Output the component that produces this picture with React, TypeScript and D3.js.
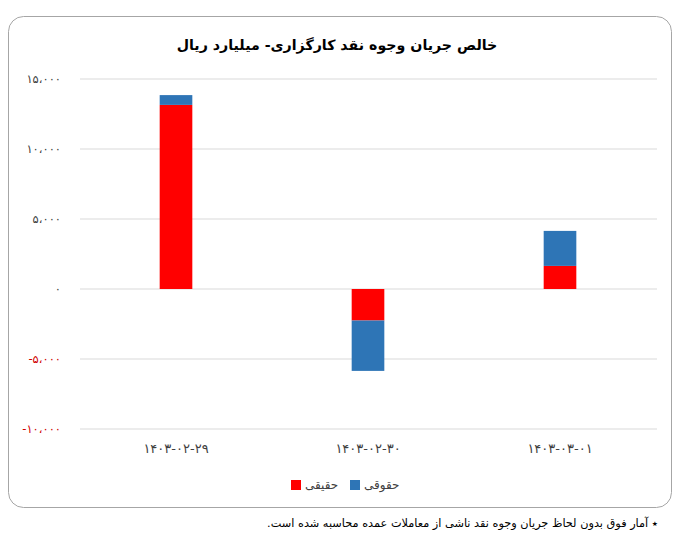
import * as d3 from 'd3'

const categories = ['۱۴۰۳-۰۲-۲۹', '۱۴۰۳-۰۲-۳۰', '۱۴۰۳-۰۳-۰۱']
const haghighi = [13150, -2250, 1650]
const hoghoghi = [700, -3600, 2500]
const yTicks = [-10000, -5000, 0, 5000, 10000, 15000]

const seriesKeys = ['haghighi', 'hoghoghi'] as const
const seriesNames: Record<string, string> = { haghighi: 'حقیقی', hoghoghi: 'حقوقی' }
const colors: Record<string, string> = { haghighi: '#FF0000', hoghoghi: '#2E75B6' }

const title = 'خالص جریان وجوه نقد کارگزاری- میلیارد ریال'
const footnote = '٭ آمار فوق بدون لحاظ جریان وجوه نقد ناشی از معاملات عمده محاسبه شده است.'

const W = 682
const H = 544
const FONT = '"DejaVu Sans", sans-serif'

const faDigits = (s: string) => s.replace(/[0-9]/g, d => '۰۱۲۳۴۵۶۷۸۹'[+d])
const fmtTick = (v: number) => {
  const s = d3.format(',')(Math.abs(v)).replace(/,/g, '،')
  return (v < 0 ? '-' : '') + faDigits(s)
}

export default function App() {
  const rows = categories.map((c, i) => ({ cat: c, haghighi: haghighi[i], hoghoghi: hoghoghi[i] }))
  const stacked = d3.stack<any>().keys(seriesKeys as any).offset(d3.stackOffsetDiverging)(rows)

  const x = d3.scaleBand<string>().domain(categories).range([80, 656]).paddingInner(0.83).paddingOuter(0.415)
  const y = d3.scaleLinear().domain([-10000, 15000]).range([429, 79])

  return (
    <div style={{ position: 'absolute', left: 0, top: 0 }}>
      <svg width={W} height={H} style={{ display: 'block', background: '#fff' }} fontFamily={FONT}>
        <rect x={8.5} y={16.5} width={663} height={491} rx={15} fill="#fff" stroke="#a6a6a6" />
        <text x={337} y={50} textAnchor="middle" fontSize={14.2} fontWeight="bold" fill="#000" direction="rtl">
          {title}
        </text>

        {yTicks.map(t => (
          <g key={t}>
            <line x1={80} x2={657} y1={y(t)} y2={y(t)} stroke="#d9d9d9" />
            <text x={61} y={y(t) + 4} textAnchor="end" fontSize={11.5} fill={t < 0 ? '#D00000' : '#404040'}>
              {fmtTick(t)}
            </text>
          </g>
        ))}

        {stacked.map(s => (
          <g key={s.key} fill={colors[s.key]}>
            {s.map((d, i) => (
              <rect
                key={i}
                x={x(categories[i])}
                width={x.bandwidth()}
                y={y(Math.max(d[0], d[1]))}
                height={Math.abs(y(d[0]) - y(d[1]))}
              />
            ))}
          </g>
        ))}

        {categories.map(c => (
          <text key={c} x={(x(c) ?? 0) + x.bandwidth() / 2} y={453} textAnchor="middle" fontSize={13} fill="#404040">
            {c}
          </text>
        ))}

        {seriesKeys.map((k, i) => (
          <g key={k} transform={`translate(${291 + i * 59},480)`}>
            <rect width={10} height={10} fill={colors[k]} />
            <text x={14} y={9} fontSize={12} fill="#404040">{seriesNames[k]}</text>
          </g>
        ))}

        <text x={658} y={527} textAnchor="start" direction="rtl" fontSize={11.3} fill="#000">
          {footnote}
        </text>
      </svg>
    </div>
  )
}
